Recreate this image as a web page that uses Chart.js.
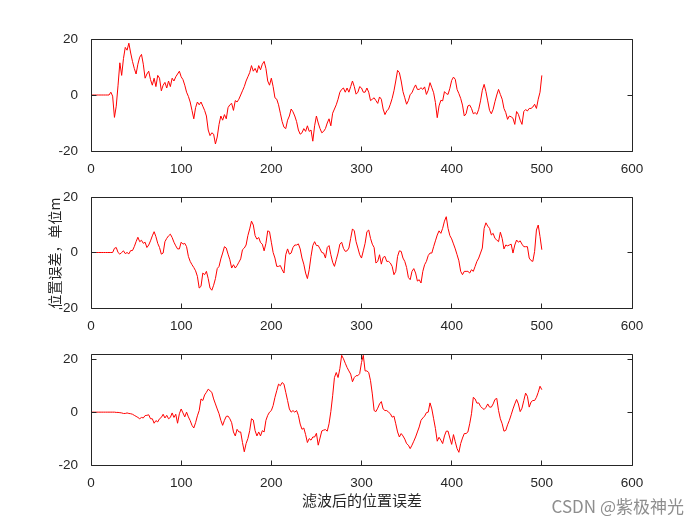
<!DOCTYPE html>
<html><head><meta charset="utf-8">
<script src="https://cdn.jsdelivr.net/npm/chart.js@4"></script>
<style>
html,body{margin:0;padding:0;background:#fff;}
#wrap{position:relative;width:700px;height:525px;background:#fff;}
canvas{position:absolute;left:0;top:0;}
</style>
</head><body>
<div id="wrap">
<canvas id="c1" width="700" height="525"></canvas>
<canvas id="c2" width="700" height="525"></canvas>
<canvas id="c3" width="700" height="525"></canvas>
</div>
<script>
// sample spacing along x (time step index)
const sampleStep = 2;
const xTicks = [0, 100, 200, 300, 400, 500, 600];
const yTicks = [-20, 0, 20];

// subplot 1 position error (x = 0,2,...,500)
const errA = [
0,0,0,0,0,0,0,0,0,0,
0,1,-0.4,-8,-4,3.5,11.5,7,13,17,
16,18.5,15,12,9.5,7.5,11,13.5,14.5,11,
6,7.5,8.5,5.5,3.5,6,3,7,6,1.5,
3.5,4.5,2.5,5,3,6,5,6.5,7.5,8.5,
6.5,5.5,3.5,1,-0.5,-2.5,-5.5,-8.5,-4.5,-2.5,
-3.5,-2.5,-4,-5.5,-7.5,-12.5,-14.5,-13.5,-14,-17.5,
-15,-10.5,-7.5,-9,-7,-8.5,-4.5,-3.5,-3,-5.5,
-2,-2.5,-1.5,0,1.5,3,5,6.5,8,10.5,
8.5,9.5,8,10.5,9,11,12,9.5,5,3.5,
6,3,-1,-1.5,-3.5,-6.5,-9.5,-11.5,-12,-9,
-7.5,-5,-6,-7.5,-9.5,-12.5,-14,-13.5,-12,-13,
-11,-13,-12.5,-16.5,-11,-7.5,-10,-12,-13.5,-13,
-12,-10,-8.5,-11,-6.5,-5,-3.5,-1.5,1,2,
2.5,1,2.5,1,3,5,3,0.3,1,3,
2.5,1,1,2.5,1,-2,-1.5,-1,-2,-3,
-0.7,-1.5,-5,-7,-5.7,-5,-3.3,-1.2,1.5,5,
8.8,8,5,1.2,-1,-3.3,-2,0.2,0.8,2.4,
3.6,2,2,2.6,2,2.9,0.2,1.7,4.4,2.6,
0.8,-2.7,-8.1,-3.9,-1.9,-2.1,1.2,0.5,0.2,2.4,
5.2,6.4,5.6,2,0.5,-1.2,-3.6,-7.5,-6.7,-3.9,
-3.6,-4.8,-6.7,-6.3,-6.9,-5.1,-2.1,1.7,3.8,1.2,
-2.1,-5.5,-6.7,-5.1,-2.4,0,2,0.2,-1.5,-4.8,
-6.3,-8.7,-7.5,-7.8,-8.3,-10.5,-5.9,-6.9,-9,-10.5,
-5.9,-5.2,-5.7,-4.8,-4.8,-4.3,-3.3,-4.8,-1.5,1,
7
];

// subplot 2 position error
const errB = [
0,0,0,0,0,0,0,0,0,0,
0,0,0,1.5,1.8,0,-0.6,0,0.6,-0.4,
0,-0.5,0.7,0.7,2.1,3.9,5.5,3.9,4.4,3.3,
3.7,1.8,2.7,4.2,6,7.5,5.7,3.3,1.8,-0.6,
-0.2,3.9,5.1,6,6.6,5.4,3.7,2.4,1.3,1.3,
3.7,3,3.3,2.1,-1.4,-3.2,-4.4,-5.4,-6.6,-8.6,
-12.8,-12.2,-7.4,-8,-6.8,-9.4,-12.8,-13.6,-11.8,-9.4,
-5.8,-5,-2.3,-0.2,2.1,1.6,-0.6,-2.6,-5.6,-4.4,
-5.6,-4.7,-3.5,-2.3,1,1.6,2.7,6.1,8.5,11.3,
9.9,6.1,4.8,5.4,3.6,3,0.6,3.3,7.8,7.5,
3.7,0,-2,-5,-5,-4.7,-6.2,-7.4,-0.8,1.3,
-0.6,-0.2,1.8,2.7,2.7,3.1,1.3,-2,-4.2,-7.4,
-9.4,-6.2,-1.4,2.5,3.9,2.5,2.5,1.3,0,-0.2,
-2,1.8,2.5,-0.8,-3.5,-5,-2.6,-0.2,3,3.7,
1.5,0.4,0.6,1.6,5.1,8.5,7.8,3.9,1.6,-0.8,
-2,0.6,3.3,7.5,8.1,5.1,3,1.8,-3.8,-3.2,
-0.8,-4.2,-1.8,-1.4,-3.2,-3.2,-3.8,-5,-8,-6.8,
-1.4,0.6,0.4,-2,-3.2,-5.4,-9,-9.8,-6.8,-5.8,
-7.4,-10.3,-9.8,-11,-6.8,-4.4,-3.2,-1.1,-0.2,-0.2,
2.1,4.2,6.3,7.8,6.9,8.7,11.3,12.9,8.7,6.1,
4.9,3.1,1.3,-0.8,-3,-6.8,-8,-6.8,-6.8,-6.8,
-7.4,-6.2,-6.8,-5,-3.2,-2,-0.2,1.6,8.7,10.7,
9.5,8.7,6.3,6.9,5.1,4.5,3.9,7.3,5.1,1.3,
2.7,2.4,2.7,3,-0.2,2.7,4.5,3.7,4.2,3,
2.1,2.1,2.1,-2,-2.9,-3.2,0.4,8.1,9.9,5.7,
1
];

// subplot 3 position error after filtering
const errC = [
0,0,0,0,0,0,0,0,0,0,
0,0,0,0,-0.1,-0.1,-0.2,-0.3,-0.5,-0.5,
-0.3,-0.5,-0.6,-0.8,-1.2,-1.6,-2,-2.5,-2,-2.2,
-1.3,-1.2,-1,-2.5,-2.5,-4.2,-3.2,-3.7,-2.5,-2,
-0.8,-2.2,-1.2,-2.5,-2,-0.3,-2,-0.8,-4.2,-0.6,
1.2,-0.3,-1.8,0,-1.8,-3.2,-5,-6,-4,-1.4,
0.6,5,4.4,6.5,7.5,8.7,8.1,7.5,5,3.1,
1.2,-0.6,-3.1,-5,-3.1,-1.6,-1.5,-2.5,-4,-7.5,
-9,-6.5,-7.5,-7.5,-11.5,-15,-11.9,-10,-7,-2.5,
-3,-7,-9,-7.5,-9,-7,-7.5,-3.1,-1.2,0,
0.6,2.5,5.6,8.1,10.6,10,11.2,10.6,7.5,4.4,
1.2,0,0.6,0,0.6,-1.2,-4.5,-6.5,-6,-8.5,
-11.5,-10,-10.6,-9.4,-9.4,-8,-12.5,-9.8,-7.1,-6.8,
-6.6,-7.2,-4.4,0.2,6.2,13.1,15,13.1,16.5,21.5,
20.2,18.5,16.9,15.6,14.4,11.5,13.1,13.8,13.8,14.6,
18.8,21.5,15.6,15.6,15,11.9,6.9,0.6,0.2,1.5,
3.1,4,1.2,0.6,0.6,0,-0.6,-1.9,-1.5,-4.4,
-7.5,-9.4,-8.1,-9,-10.2,-11.9,-12.5,-13.8,-12.5,-11,
-9.4,-7.5,-5.6,-3.1,-2.2,-1.5,-0.2,0,3.5,1.2,
-2.5,-6.2,-11,-9.5,-10.6,-11.9,-9,-7.2,-7.2,-9.8,
-12.2,-8.5,-11.2,-13.8,-15.2,-11.9,-9.8,-8.1,-8.1,-7.5,
-4.4,-0.6,5.6,5,3.4,3.5,2.2,1.5,1,1.8,
3.1,1.9,1.9,3.1,4.8,5.2,0.6,-2.5,-4.4,-7.2,
-6.9,-4.8,-3.1,-1,1.2,3.1,4.8,3.1,0.2,1.5,
4.4,7.2,6,1.9,3.8,4.4,4.4,5.6,7.5,9.8,
8.5
];

const yLabelMid = '位置误差，单位m';
const xLabelBottom = '滤波后的位置误差';
const watermarkText = 'CSDN @紫极神光';

const axisColor = '#262626';
const lineColor = '#ff0000';
const tickFont = {family: '"Liberation Sans", Arial, Helvetica, sans-serif', size: 13.5};
const cjkFont = '"Noto Sans CJK SC", "Noto Sans", sans-serif';

function boxPlugin(extraDraw) {
  return {
    id: 'matlabBox',
    afterDraw(chart) {
      const ctx = chart.ctx;
      const a = chart.chartArea;
      const xs = chart.scales.x, ys = chart.scales.y;
      const L = Math.floor(a.left) + 0.5, R = Math.floor(a.right) + 0.5;
      const T = Math.floor(a.top) + 0.5, B = Math.floor(a.bottom) + 0.5;
      ctx.save();
      ctx.strokeStyle = axisColor;
      ctx.lineWidth = 1;
      ctx.beginPath();
      ctx.rect(L, T, R - L, B - T);
      const tl = 5;
      xTicks.forEach(v => {
        const px = Math.floor(xs.getPixelForValue(v)) + 0.5;
        ctx.moveTo(px, B); ctx.lineTo(px, B - tl);
        ctx.moveTo(px, T); ctx.lineTo(px, T + tl);
      });
      yTicks.forEach(v => {
        const py = Math.floor(ys.getPixelForValue(v)) + 0.5;
        ctx.moveTo(L, py); ctx.lineTo(L + tl, py);
        ctx.moveTo(R, py); ctx.lineTo(R - tl, py);
      });
      ctx.stroke();
      ctx.restore();
      if (extraDraw) extraDraw(ctx, chart);
    }
  };
}

function makeChart(id, values, yMax, top, bottom, extraDraw) {
  const xAxisH = 30;
  return new Chart(document.getElementById(id), {
    type: 'line',
    data: {
      datasets: [{
        data: values.map((v, i) => ({x: i * sampleStep, y: v})),
        borderColor: lineColor,
        borderWidth: 1,
        pointRadius: 0,
        tension: 0,
        fill: false
      }]
    },
    options: {
      responsive: false,
      animation: false,
      events: [],
      layout: {padding: {left: 0, right: 68, top: top, bottom: 525 - bottom - xAxisH}},
      plugins: {legend: {display: false}, tooltip: {enabled: false}, title: {display: false}},
      scales: {
        x: {
          type: 'linear', min: 0, max: 600,
          afterBuildTicks(s) { s.ticks = xTicks.map(v => ({value: v})); },
          afterFit(s) { s.height = xAxisH; },
          grid: {display: false}, border: {display: false},
          ticks: {color: axisColor, font: tickFont, padding: 2, maxRotation: 0, autoSkip: false}
        },
        y: {
          type: 'linear', min: -20, max: yMax,
          afterBuildTicks(s) { s.ticks = yTicks.map(v => ({value: v})); },
          afterFit(s) { s.width = 91; },
          grid: {display: false}, border: {display: false},
          ticks: {color: axisColor, font: tickFont, padding: 5}
        }
      }
    },
    plugins: [boxPlugin(extraDraw)]
  });
}

makeChart('c1', errA, 20, 39, 151);
makeChart('c2', errB, 20, 197, 308, (ctx) => {
  ctx.save();
  ctx.translate(55, 253);
  ctx.rotate(-Math.PI / 2);
  ctx.fillStyle = axisColor;
  ctx.font = '14px ' + cjkFont;
  ctx.textAlign = 'center';
  ctx.textBaseline = 'middle';
  ctx.fillText(yLabelMid, 0, 0);
  ctx.restore();
});
makeChart('c3', errC, 22, 354, 465, (ctx) => {
  ctx.save();
  ctx.fillStyle = axisColor;
  ctx.font = '15px ' + cjkFont;
  ctx.textAlign = 'center';
  ctx.textBaseline = 'middle';
  ctx.fillText(xLabelBottom, 362, 500);
  ctx.fillStyle = '#8e8e8e';
  ctx.font = '17px ' + cjkFont;
  ctx.textAlign = 'right';
  ctx.fillText(watermarkText, 684, 507);
  ctx.restore();
});
</script>
</body></html>
